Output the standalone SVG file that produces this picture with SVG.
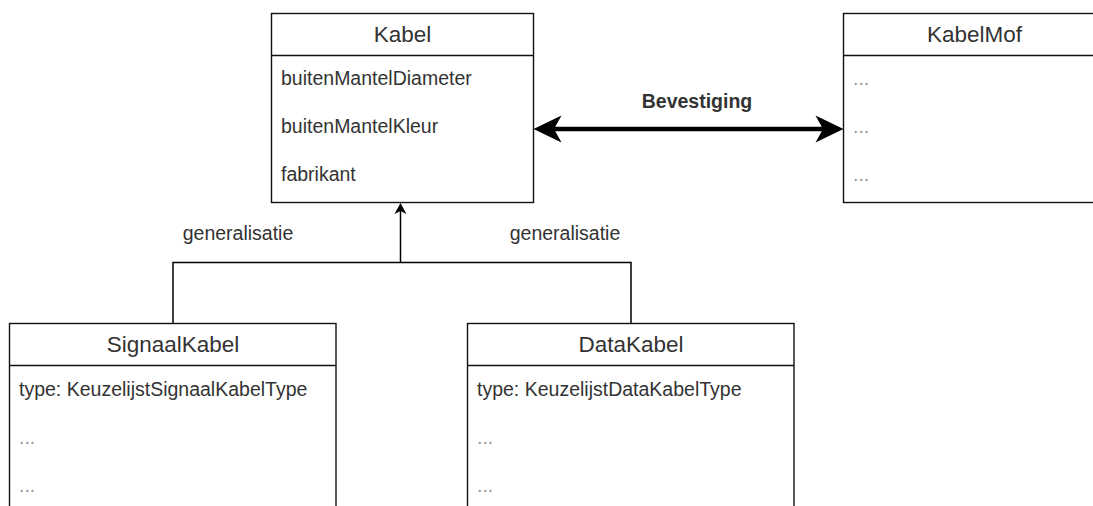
<svg xmlns="http://www.w3.org/2000/svg" width="1093" height="506" viewBox="0 0 1093 506">
<style>
.box{fill:#fff;stroke:#111;stroke-width:1.4}
.div{stroke:#111;stroke-width:1.4}
.hdr{font-family:"Liberation Sans",Arial,sans-serif;font-size:22.5px;fill:#333;text-anchor:middle}
.att{font-family:"Liberation Sans",Arial,sans-serif;font-size:19.5px;fill:#333}
.dots{font-family:"Liberation Sans",Arial,sans-serif;font-size:19.5px;fill:#999}
.lbl{font-family:"Liberation Sans",Arial,sans-serif;font-size:19.5px;fill:#333;text-anchor:middle}
.bold{font-weight:bold}
.ln{fill:none;stroke:#000;stroke-width:1.5}
.thick{fill:none;stroke:#000;stroke-width:4.5}
</style>
<rect width="1093" height="506" fill="#fff"/>
<g id="connectors">
  <path class="ln" d="M173,323.5 V262.5 H631 V323.5"/>
  <path class="ln" d="M400.5,262.5 V210"/>
  <path d="M400.5,203 L394.5,214 L400.5,211 L406.5,214 Z" fill="#000"/>
  <path class="thick" d="M552,129 H824"/>
  <path d="M533.5,129 L561.5,115.5 L554,129 L561.5,142.5 Z" fill="#000"/>
  <path d="M843.5,129 L815.5,115.5 L823,129 L815.5,142.5 Z" fill="#000"/>
  <text class="lbl bold" x="697" y="108">Bevestiging</text>
  <text class="lbl" x="238" y="240">generalisatie</text>
  <text class="lbl" x="565" y="240">generalisatie</text>
</g>
<g id="kabel">
  <rect class="box" x="271.5" y="13.5" width="262" height="189"/>
  <line class="div" x1="271.5" y1="55.5" x2="533.5" y2="55.5"/>
  <text class="hdr" x="402.5" y="42">Kabel</text>
  <text class="att" x="281" y="85">buitenMantelDiameter</text>
  <text class="att" x="281" y="133">buitenMantelKleur</text>
  <text class="att" x="281" y="181">fabrikant</text>
</g>
<g id="kabelmof">
  <rect class="box" x="843.5" y="13.5" width="262" height="189"/>
  <line class="div" x1="843.5" y1="55.5" x2="1105.5" y2="55.5"/>
  <text class="hdr" x="974.5" y="42">KabelMof</text>
  <text class="dots" x="853" y="85">...</text>
  <text class="dots" x="853" y="133">...</text>
  <text class="dots" x="853" y="181">...</text>
</g>
<g id="signaalkabel">
  <rect class="box" x="9.5" y="323.5" width="326.5" height="200"/>
  <line class="div" x1="9.5" y1="365.5" x2="336" y2="365.5"/>
  <text class="hdr" x="173" y="352">SignaalKabel</text>
  <text class="att" x="19" y="396">type: KeuzelijstSignaalKabelType</text>
  <text class="dots" x="19" y="444">...</text>
  <text class="dots" x="19" y="492">...</text>
</g>
<g id="datakabel">
  <rect class="box" x="467.5" y="323.5" width="326.5" height="200"/>
  <line class="div" x1="467.5" y1="365.5" x2="794" y2="365.5"/>
  <text class="hdr" x="631" y="352">DataKabel</text>
  <text class="att" x="477" y="396">type: KeuzelijstDataKabelType</text>
  <text class="dots" x="477" y="444">...</text>
  <text class="dots" x="477" y="492">...</text>
</g>
</svg>
